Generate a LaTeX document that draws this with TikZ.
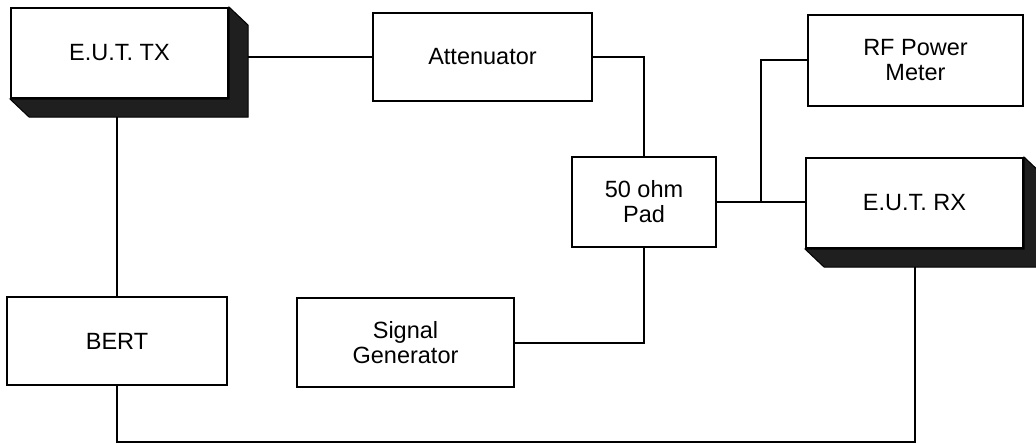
\documentclass[tikz,border=0pt]{standalone}
\usepackage{fontspec}
\setmainfont{Liberation Sans}
\usepackage{tikz}
\usetikzlibrary{positioning, backgrounds, calc}

\begin{document}
\begin{tikzpicture}[
    x=1pt, y=-1pt,
    unit/.style={rectangle, draw=black, fill=white, line width=2pt, inner sep=0pt, minimum width=217pt, minimum height=90pt, align=center, font=\fontsize{23.5}{25}\selectfont},
    line/.style={draw=black, line width=2pt},
    slab/.style={fill=black!88, draw=black, line width=1pt}
]
\useasboundingbox (0,0) rectangle (1036,444);

% Nodes
\node[unit] (tx) at (119.5,53) {E.U.T. TX};
\node[unit, minimum width=219pt, minimum height=88pt] (att) at (482.5,57) {Attenuator};
\node[unit, minimum width=215pt, minimum height=91pt] (rf) at (915.5,60.5) {RF Power\\Meter};
\node[unit, minimum width=144pt] (pad) at (644,202) {50 ohm\\Pad};
\node[unit] (rx) at (914.5,203) {E.U.T. RX};
\node[unit, minimum width=220pt, minimum height=88pt] (bert) at (117,341) {BERT};
\node[unit, minimum height=89pt] (sig) at (405.5,342.5) {Signal\\Generator};

% 3D edges of the E.U.T. boxes
\foreach \n in {tx,rx}
    \filldraw[slab] (\n.north east) -- ++(19,18) -- ($(\n.south east)+(19,18)$)
        -- ($(\n.south west)+(19,18)$) -- (\n.south west) -- (\n.south east) -- cycle;

% Connections
\coordinate (tee) at ($(pad.east)!0.5!(pad.east -| rx.west)$);
\begin{scope}[on background layer]
\draw[line] (att.west) -- (att.west -| tx.east);
\draw[line] (att.east) -| (pad.north);
\draw[line] (pad.east) -- (pad.east -| rx.west);
\draw[line] (tee) |- (rf.west);
\draw[line] (pad.south) |- (sig.east);
\draw[line] (bert.north) -- (bert.north |- tx.south);
\draw[line] (bert.south) -- ++(0,56) -| (rx.south);
\end{scope}

\end{tikzpicture}
\end{document}
